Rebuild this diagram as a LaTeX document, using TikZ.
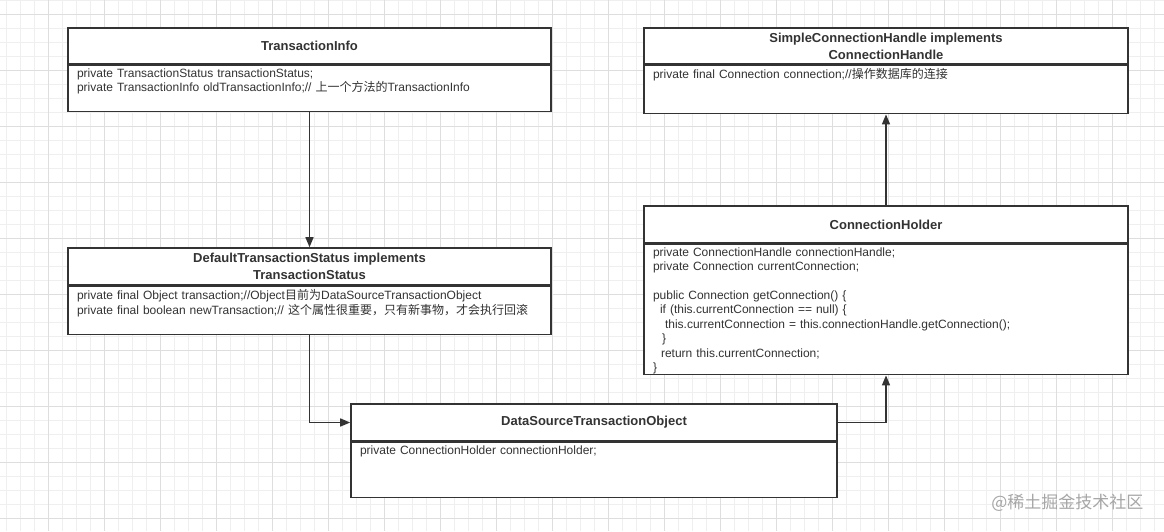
\documentclass[tikz,border=0pt]{standalone}
\usepackage{fontspec}
\setmainfont{Liberation Sans}
\newfontfamily\cjk{Noto Sans CJK SC}
\usepackage{tikz}
\usetikzlibrary{positioning,arrows.meta}

\definecolor{ink}{HTML}{333333}
\definecolor{gridminor}{HTML}{EFEFEF}
\definecolor{gridmajor}{HTML}{DEDEDE}

\tikzset{
    head/.style={draw=ink, line width=1.6pt, fill=white, text=ink, align=center,
        minimum width=483pt, font=\bfseries\fontsize{13}{17}\selectfont},
    body/.style={draw=ink, line width=1.6pt, fill=white, text=ink, align=left,
        text width=465pt, inner xsep=9pt, inner ysep=3pt,
        font=\fontsize{12}{14.4}\selectfont},
    link/.style={draw=ink, line width=1.5pt, -{Triangle[length=10pt,width=8pt]}}
}

\begin{document}
\begin{tikzpicture}[x=1pt,y=-1pt]
    \useasboundingbox (0,0) rectangle (1164,531);
    \fill[white] (0,0) rectangle (1164,531);
    % background grid
    \foreach \x in {6.7,20.7,...,1164} \draw[gridminor, line width=0.6pt] (\x,0) -- (\x,531);
    \foreach \y in {0,14,...,531} \draw[gridminor, line width=0.6pt] (0,\y) -- (1164,\y);
    \foreach \x in {48.7,104.7,...,1164} \draw[gridmajor, line width=0.7pt] (\x,0) -- (\x,531);
    \foreach \y in {14,70,...,531} \draw[gridmajor, line width=0.7pt] (0,\y) -- (1164,\y);

    \node[head, minimum height=36pt] (infoh) at (309.5,46) {TransactionInfo};
    \node[body, below=0pt of infoh] (info) {\parbox[t][40pt][t]{\linewidth}{%
        private TransactionStatus transactionStatus;\\
        private TransactionInfo oldTransactionInfo;// {\cjk 上一个方法的}TransactionInfo}};

    \node[head, minimum height=37pt] (statush) at (309.5,266.5) {DefaultTransactionStatus implements\\TransactionStatus};
    \node[body, below=0pt of statush] (status) {\parbox[t][42pt][t]{\linewidth}{%
        private final Object transaction;//Object{\cjk 目前为}DataSourceTransactionObject\\
        private final boolean newTransaction;// {\cjk 这个属性很重要，只有新事物，才会执行回滚}}};

    \node[head, minimum height=37pt, minimum width=486pt] (dstoh) at (594,422.5) {DataSourceTransactionObject};
    \node[body, below=0pt of dstoh, text width=468pt] (dsto) {\parbox[t][49pt][t]{\linewidth}{%
        private ConnectionHolder connectionHolder;}};

    \node[head, minimum height=36pt, minimum width=484pt] (handleh) at (886,46) {SimpleConnectionHandle implements\\ConnectionHandle};
    \node[body, below=0pt of handleh, text width=466pt] (handle) {\parbox[t][42pt][t]{\linewidth}{%
        private final Connection connection;//{\cjk 操作数据库的连接}}};

    \node[head, minimum height=37pt, minimum width=484pt] (holderh) at (886,224.5) {ConnectionHolder};
    \node[body, below=0pt of holderh, text width=466pt] (holder) {\parbox[t][124pt][t]{\linewidth}{%
        private ConnectionHandle connectionHandle;\\
        private Connection currentConnection;\\[14.4pt]
        public Connection getConnection() \{\\
        \hspace*{7pt}if (this.currentConnection == null) \{\\
        \hspace*{12pt}this.currentConnection = this.connectionHandle.getConnection();\\
        \hspace*{9pt}\}\\
        \hspace*{8pt}return this.currentConnection;\\
        \}}};

    \draw[link] (info.south) -- (statush.north);
    \draw[link] (status.south) |- (dstoh.west);
    \draw[link] (dstoh.east) -| (holder.south);
    \draw[link] (holderh.north) -- (handle.south);

    \node[text=black!35, font=\fontsize{17}{20}\selectfont, anchor=east] (wm) at (1147,503) {\cjk @稀土掘金技术社区};
\end{tikzpicture}
\end{document}
